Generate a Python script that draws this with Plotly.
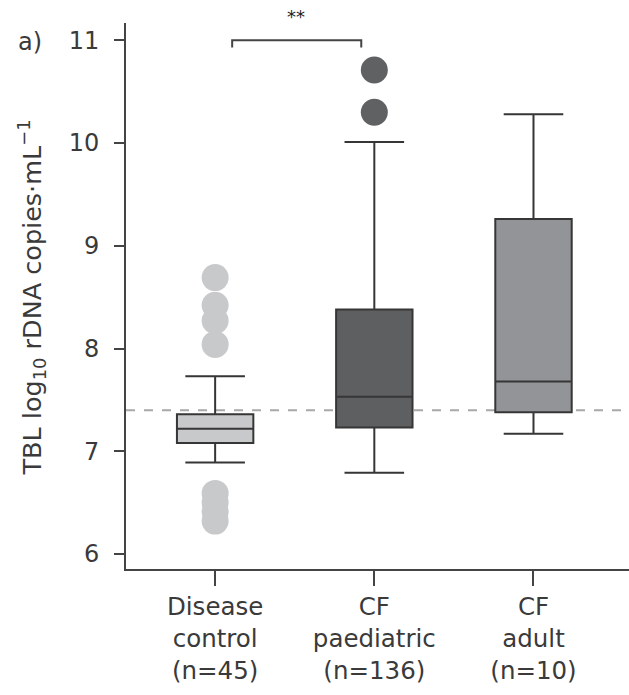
import plotly.graph_objects as go

categories = ["Disease<br>control<br>(n=45)", "CF<br>paediatric<br>(n=136)", "CF<br>adult<br>(n=10)"]
q1 = [7.08, 7.23, 7.38]
median = [7.22, 7.53, 7.68]
q3 = [7.36, 8.38, 9.26]
lower_whisker = [6.89, 6.79, 7.17]
upper_whisker = [7.73, 10.01, 10.28]
outliers_dc = [8.69, 8.42, 8.27, 8.04, 6.59, 6.50, 6.41, 6.32]
outliers_cfp = [10.71, 10.30]
reference_level = 7.40

fills = ["#c8c9cb", "#5e5f61", "#939497"]
line_col = "#363636"
text_col = "#3a3a3a"
FONT = "DejaVu Sans"

fig = go.Figure()
for i in range(3):
    fig.add_trace(go.Box(
        x=[i], q1=[q1[i]], median=[median[i]], q3=[q3[i]],
        lowerfence=[lower_whisker[i]], upperfence=[upper_whisker[i]],
        fillcolor=fills[i], line=dict(color=line_col, width=2),
        width=0.48, whiskerwidth=0.78, boxpoints=False, showlegend=False,
    ))

fig.add_trace(go.Scatter(
    x=[0] * len(outliers_dc), y=outliers_dc, mode="markers",
    marker=dict(size=27, color="#c8c9cb", line=dict(width=0)),
    showlegend=False, cliponaxis=False,
))
fig.add_trace(go.Scatter(
    x=[1] * len(outliers_cfp), y=outliers_cfp, mode="markers",
    marker=dict(size=27, color="#606163", line=dict(width=0)),
    showlegend=False, cliponaxis=False,
))

# dashed reference line
fig.add_shape(type="line", xref="paper", x0=0, x1=1, yref="y",
              y0=reference_level, y1=reference_level,
              line=dict(color="#a8a8a8", width=2, dash="dash"), layer="below")

# significance bracket
fig.add_shape(type="path", xref="x", yref="y",
              path="M 0.107,10.93 L 0.107,11.0 L 0.918,11.0 L 0.918,10.93",
              line=dict(color="#444444", width=2))
fig.add_annotation(text="**", xref="x", yref="paper", x=0.51, y=1.012,
                   showarrow=False, font=dict(size=18, color="#222222", family=FONT),
                   yanchor="middle")

fig.add_annotation(text="a)", xref="paper", yref="paper", x=-0.218, y=0.965,
                   showarrow=False, xanchor="left", yanchor="middle",
                   font=dict(size=24, color=text_col, family=FONT))

fig.add_annotation(text="TBL log<sub>10</sub> rDNA copies·mL<sup>−1</sup>",
                   xref="paper", yref="paper", x=-0.187, y=0.497,
                   textangle=-90, showarrow=False, xanchor="center", yanchor="middle",
                   font=dict(size=25.5, color=text_col, family=FONT))

fig.update_layout(
    width=629, height=695,
    margin=dict(l=126, r=0, t=23, b=126),
    plot_bgcolor="white", paper_bgcolor="white",
    font=dict(family=FONT, color=text_col),
    xaxis=dict(range=[-0.56, 2.60], tickvals=[0, 1, 2], ticktext=categories,
               showline=True, linecolor="#444444", linewidth=2,
               ticks="outside", ticklen=15, tickwidth=2, tickcolor="#444444",
               showgrid=False, zeroline=False,
               tickfont=dict(size=24.5, color=text_col, family=FONT)),
    yaxis=dict(range=[5.854, 11.168], tickvals=[6, 7, 8, 9, 10, 11],
               showline=True, linecolor="#444444", linewidth=2,
               ticks="outside", ticklen=10, tickwidth=2, tickcolor="#444444",
               showgrid=False, zeroline=False, ticklabelstandoff=10,
               tickfont=dict(size=24, color=text_col, family=FONT)),
)

fig.write_html("out.html")
